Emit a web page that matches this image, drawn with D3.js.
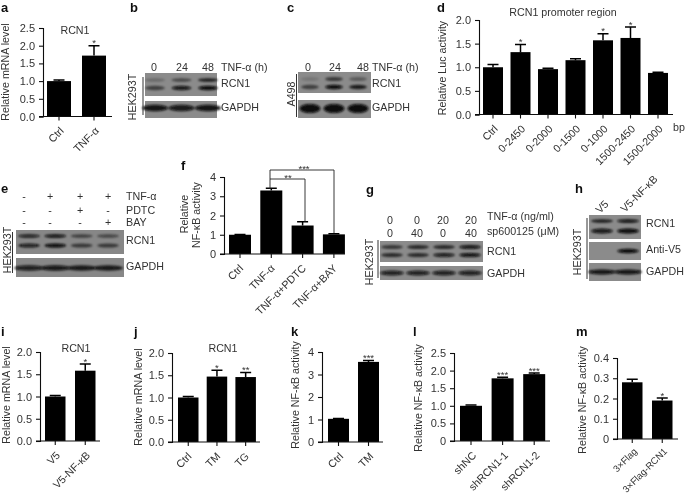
<!DOCTYPE html>
<html><head><meta charset="utf-8">
<script src="https://cdn.jsdelivr.net/npm/d3@7/dist/d3.min.js"></script>
<style>
html,body{margin:0;padding:0;background:#fff}
svg{display:block}
text{font-family:"Liberation Sans",Arial,sans-serif;fill:#333;font-size:10.7px}
</style></head><body>
<svg id="c" width="685" height="497"></svg>
<script>
// ---- data ----
const aCats=["Ctrl","TNF-α"], aVals=[1.0,1.72], aErrs=[0.03,0.28], aStars=["","*"], aTicks=[0,0.5,1,1.5,2,2.5];
const dCats=["Ctrl","0-2450","0-2000","0-1500","0-1000","1500-2450","1500-2000"];
const dVals=[1.0,1.32,0.96,1.15,1.57,1.62,0.88], dErrs=[0.06,0.16,0.02,0.03,0.14,0.23,0.015], dStars=["","*","","","*","*",""], dTicks=[0,0.5,1,1.5,2];
const fCats=["Ctrl","TNF-α","TNF-α+PDTC","TNF-α+BAY"], fVals=[1.0,3.3,1.48,1.02], fErrs=[0.01,0.12,0.2,0.03], fStars=["","","",""], fTicks=[0,1,2,3,4];
const iCats=["V5","V5-NF-κB"], iVals=[1.0,1.58], iErrs=[0.02,0.15], iStars=["","*"], iTicks=[0,0.5,1,1.5,2];
const jCats=["Ctrl","TM","TG"], jVals=[1.0,1.47,1.46], jErrs=[0.02,0.14,0.1], jStars=["","*","**"], jTicks=[0,0.5,1,1.5,2];
const kCats=["Ctrl","TM"], kVals=[1.03,3.56], kErrs=[0.02,0.06], kStars=["","***"], kTicks=[0,1,2,3,4];
const lCats=["shNC","shRCN1-1","shRCN1-2"], lVals=[1.0,1.78,1.9], lErrs=[0.02,0.03,0.03], lStars=["","***","***"], lTicks=[0,0.5,1,1.5,2,2.5];
const mCats=["3×Flag","3×Flag-RCN1"], mVals=[0.28,0.19], mErrs=[0.015,0.012], mStars=["","*"], mTicks=[0,0.1,0.2,0.3,0.4];
// band intensities on the blots, one value per lane
const bRcn1Up=[.25,.5,.8], bRcn1Lo=[.55,.9,1], bGapdh=[.95,.9,.95];
const cRcn1Up=[.15,.6,.35], cRcn1Lo=[.55,1,.8], cGapdh=[1,1,1];
const eRcn1Up=[.85,.95,.55,.5], eRcn1Lo=[.85,1,.6,.6], eGapdh=[.85,.9,.8,.8];
const gRcn1Up=[.6,.7,.7,.9], gRcn1Lo=[.7,.7,.85,.95], gGapdh=[.85,.85,.85,.85];
const hRcn1Up=[.8,.95], hRcn1Lo=[.9,1], hV5=[0,1], hGapdh=[.95,.95];
const gTnf=["0","0","20","20"], gSp=["0","40","0","40"];
const eTnf=["-","+","+","+"], ePdtc=["-","-","+","-"], eBay=["-","-","-","+"];
const bTimes=["0","24","48"];

// ---- drawing ----
const svg=d3.select("#c");
const defs=svg.append("defs");
defs.append("filter").attr("id","soft").attr("x","0").attr("y","0").attr("width","1").attr("height","1")
  .append("feGaussianBlur").attr("stdDeviation",.35);
defs.append("filter").attr("id","band").attr("x","-30%").attr("y","-100%").attr("width","160%").attr("height","300%")
  .append("feGaussianBlur").attr("stdDeviation",1.1);
const root=svg.append("g").attr("filter","url(#soft)");
root.append("rect").attr("width",685).attr("height",497).attr("fill","#fff");

function t(x,y,s,o={}){
  const e=root.append("text").attr("x",x).attr("y",y).text(s);
  if(o.anchor)e.attr("text-anchor",o.anchor);
  if(o.size)e.style("font-size",o.size+"px");
  if(o.bold)e.style("font-weight","bold").style("fill","#111");
  if(o.rot!==undefined)e.attr("transform",`rotate(${o.rot},${x},${y})`);
  return e;
}
function vlabel(x,y,s){t(x,y,s,{anchor:"middle",rot:-90});}

function bars(p){
  const g=root.append("g");
  const n=p.cats.length, gap=p.step-p.width;
  const x=d3.scaleBand().domain(p.cats).range([p.left-gap/2,p.left-gap/2+n*p.step])
    .paddingInner(gap/p.step).paddingOuter(gap/p.step/2);
  const y=d3.scaleLinear().domain([0,p.max]).range([p.base,p.top]);
  g.selectAll("rect").data(p.cats).join("rect")
    .attr("x",d=>x(d)).attr("width",x.bandwidth())
    .attr("y",(d,i)=>y(p.vals[i])).attr("height",(d,i)=>p.base-y(p.vals[i])).attr("fill","#000");
  const cx=d=>x(d)+x.bandwidth()/2;
  g.selectAll(".e").data(p.cats).join("path").attr("class","e")
    .attr("d",(d,i)=>{const a=y(p.vals[i]),b=y(p.vals[i]+p.errs[i]),c=p.cap||5.5;
      return `M${cx(d)},${a}V${b}M${cx(d)-c},${b}H${cx(d)+c}`;})
    .attr("stroke","#000").attr("stroke-width",1.5).attr("fill","none");
  g.selectAll(".s").data(p.cats).join("text").attr("class","s")
    .attr("x",cx).attr("y",(d,i)=>y(p.vals[i]+p.errs[i])+0.5).attr("text-anchor","middle")
    .style("font-size","9.5px").text((d,i)=>p.stars[i]);
  const ya=g.append("g").attr("transform",`translate(${p.ax},0)`)
    .call(d3.axisLeft(y).tickValues(p.ticks).tickSize(4).tickPadding(4).tickFormat(p.fmt||d3.format(".1f")));
  const xa=g.append("g").attr("transform",`translate(0,${p.base})`)
    .call(d3.axisBottom(x).tickSize(4).tickPadding(3));
  xa.select(".domain").remove();
  g.append("line").attr("x1",p.ax-4).attr("x2",p.end).attr("y1",p.base).attr("y2",p.base).attr("stroke","#111").attr("stroke-width",1.1);
  xa.selectAll(".tick text").attr("text-anchor","end").attr("dy",0).attr("y",0)
    .attr("transform",`translate(${p.ldx===undefined?5.5:p.ldx},${p.ldy||15}) rotate(-45)`);
  [ya,xa].forEach(a=>{a.selectAll("line,path").attr("stroke","#111").attr("stroke-width",1.1);
    a.selectAll("text").style("font-size","10.7px").style("font-family",'"Liberation Sans",Arial,sans-serif').attr("fill","#333");});
  ya.selectAll("text").style("font-size","11px");
  if(p.lsize)xa.selectAll("text").style("font-size",p.lsize+"px");
}

function blot(p){
  const x=d3.scalePoint().domain(d3.range(p.lanes.length)).range([p.lanes[0],p.lanes[p.lanes.length-1]]);
  const g=root.append("g");
  p.boxes.forEach(b=>{
    g.append("rect").attr("x",p.x0).attr("width",p.x1-p.x0).attr("y",b.y0).attr("height",b.y1-b.y0).attr("fill",p.bg||"#8b8b8b");
    b.rows.forEach(r=>{
      g.append("g").attr("filter","url(#band)").selectAll("ellipse").data(r.v).join("ellipse")
        .attr("cx",(d,i)=>x(i)).attr("cy",r.y).attr("rx",r.rx||p.rx).attr("ry",r.ry||2.2)
        .attr("fill","#080808").attr("opacity",d=>d);
    });
  });
}
function side(x,y,yA,yB,lx){
  t(x,y,"HEK293T",{anchor:"middle",rot:-90});
  root.append("line").attr("x1",lx).attr("x2",lx).attr("y1",yA).attr("y2",yB).attr("stroke","#333").attr("stroke-width",1);
}

// panel letters
[["a",1,12],["b",130,12],["c",287,12],["d",437,12],["e",1,193],["f",181,170],["g",366,194],["h",575,193],
 ["i",1,336],["j",134,336],["k",291,336],["l",413,336],["m",576,336]].forEach(d=>t(d[1],d[2],d[0],{bold:true,size:13}));

// a
bars({cats:aCats,vals:aVals,errs:aErrs,stars:aStars,ticks:aTicks,max:2.5,top:28,base:116.5,ax:43,end:112,left:47,step:35,width:24});
vlabel(9,72,"Relative mRNA level"); t(75,34,"RCN1",{anchor:"middle"});
// d
bars({cats:dCats,vals:dVals,errs:dErrs,stars:dStars,ticks:dTicks,max:2,top:20,base:114.5,ax:479,end:673,left:483,step:27.5,width:20});
vlabel(446,68,"Relative Luc activity"); t(563,16,"RCN1 promoter region",{anchor:"middle"}); t(673,131,"bp");
// f
bars({cats:fCats,vals:fVals,errs:fErrs,stars:fStars,ticks:fTicks,max:4,top:177,base:254,ax:224,end:345,left:229,step:31.3,width:22,ldx:4,fmt:d3.format("d")});
vlabel(188,214,"Relative"); vlabel(200,215,"NF-κB  activity");
root.append("path").attr("d","M270,189V170H334V233M270,179H305V222").attr("fill","none").attr("stroke","#222").attr("stroke-width",.9);
t(304,172,"***",{anchor:"middle",size:9.5}); t(288,181,"**",{anchor:"middle",size:9.5});
// i
bars({cats:iCats,vals:iVals,errs:iErrs,stars:iStars,ticks:iTicks,max:2,top:352,base:441,ax:40,end:100,left:45,step:30,width:20.5});
vlabel(10,395,"Relative mRNA level"); t(76,352,"RCN1",{anchor:"middle"});
// j
bars({cats:jCats,vals:jVals,errs:jErrs,stars:jStars,ticks:jTicks,max:2,top:353,base:442,ax:172,end:260,left:178,step:28.7,width:20.5,ldx:4});
vlabel(142,397,"Relative mRNA level"); t(223,352,"RCN1",{anchor:"middle"});
// k
bars({cats:kCats,vals:kVals,errs:kErrs,stars:kStars,ticks:kTicks,max:4,top:352,base:442,ax:322,end:383,left:328,step:30,width:21,fmt:d3.format("d")});
vlabel(299,395,"Relative NF-κB  activity");
// l
bars({cats:lCats,vals:lVals,errs:lErrs,stars:lStars,ticks:lTicks,max:2.5,top:353,base:441,ax:454,end:550,left:460,step:31.6,width:22,ldx:6,fmt:d=>d===0?"0":d3.format(".1f")(d)});
vlabel(422,398,"Relative NF-κB  activity");
// m
bars({cats:mCats,vals:mVals,errs:mErrs,stars:mStars,ticks:mTicks,max:.4,top:358,base:439,ax:617,end:678,left:622,step:30,width:20.5,lsize:9.5,ldy:13,fmt:d=>d===0?"0":d3.format(".1f")(d)});
vlabel(586,400,"Relative NF-κB  activity");

// b
blot({x0:145,x1:217,lanes:[155,181.5,208],rx:10,boxes:[{y0:73,y1:96,rows:[{y:80,v:bRcn1Up,ry:1.8},{y:88,v:bRcn1Lo}]},{y0:101,y1:118,rows:[{y:108,v:bGapdh,ry:3.2,rx:13}]}]});
bTimes.forEach((s,i)=>t([154,182,208][i],71,s,{anchor:"middle"}));
t(221,71,"TNF-α (h)"); t(221,87,"RCN1"); t(221,111,"GAPDH");
side(136,97,77,115,143);
// c
blot({x0:298,x1:371,lanes:[310,334,358],rx:9,boxes:[{y0:72,y1:93,rows:[{y:79,v:cRcn1Up,ry:2},{y:87,v:cRcn1Lo}]},{y0:100,y1:118,rows:[{y:108.5,v:cGapdh,ry:4.6,rx:10.5}]}]});
bTimes.forEach((s,i)=>t([308,335,363][i],71,s,{anchor:"middle"}));
t(372,71,"TNF-α (h)"); t(372,87,"RCN1"); t(372,111,"GAPDH");
t(295,94,"A498",{anchor:"middle",rot:-90});
root.append("line").attr("x1",296.5).attr("x2",296.5).attr("y1",74).attr("y2",117).attr("stroke","#333");
// e
blot({x0:16,x1:124,lanes:[29,55,82,108],rx:11,bg:"#878787",boxes:[{y0:230,y1:254,rows:[{y:236,v:eRcn1Up,ry:1.8},{y:245.5,v:eRcn1Lo,ry:2}]},{y0:258,y1:277,rows:[{y:268,v:eGapdh,ry:2.8,rx:15}]}]});
[[eTnf,"TNF-α",200],[ePdtc,"PDTC",214],[eBay,"BAY",226]].forEach(r=>{
  r[0].forEach((s,i)=>t([24,50,80,108][i],r[2],s,{anchor:"middle"}));
  t(126,r[2],r[1]);
});
t(126,244,"RCN1"); t(126,270,"GAPDH");
side(10.5,250,232,273,12.5);
// g
blot({x0:380,x1:483,lanes:[392,418,444,470],rx:11,boxes:[{y0:241,y1:262,rows:[{y:247,v:gRcn1Up,ry:2},{y:255,v:gRcn1Lo,ry:2}]},{y0:266,y1:280,rows:[{y:273,v:gGapdh,ry:2.4,rx:12}]}]});
gTnf.forEach((s,i)=>t([390,417,443,471][i],224,s,{anchor:"middle"}));
gSp.forEach((s,i)=>t([390,417,443,471][i],237,s,{anchor:"middle"}));
t(487,220,"TNF-α (ng/ml)"); t(487,235,"sp600125 (μM)"); t(487,255,"RCN1"); t(487,277,"GAPDH");
side(373,262,240,278,378);
// h
blot({x0:589,x1:641,lanes:[602,628],rx:11,boxes:[{y0:215,y1:239,rows:[{y:221,v:hRcn1Up,ry:1.8},{y:231,v:hRcn1Lo,ry:2.4}]},{y0:242,y1:260,rows:[{y:251,v:hV5,ry:2.2}]},{y0:263,y1:281,rows:[{y:272,v:hGapdh,ry:2.4,rx:14}]}]});
t(600,214,"V5",{rot:-45}); t(625,213,"V5-NF-κB",{rot:-45});
t(646,227,"RCN1"); t(646,253,"Anti-V5"); t(646,275,"GAPDH");
side(581,252,218,279,587);
</script></body></html>
